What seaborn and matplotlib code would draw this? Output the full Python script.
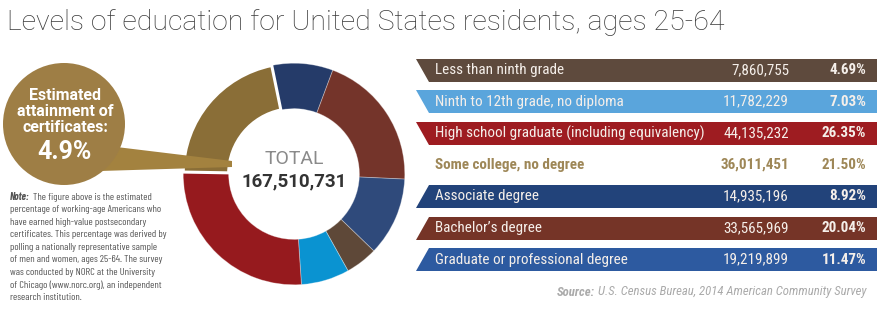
import matplotlib
matplotlib.use("Agg")
import matplotlib.pyplot as plt
import seaborn as sns
import numpy as np
from matplotlib.patches import Polygon, Circle
from matplotlib import font_manager

sns.set_theme(style="white")
avail = {f.name for f in font_manager.fontManager.ttflist}
NARROW = "Liberation Sans"
for cand in ["Roboto Condensed", "Archivo Narrow", "PT Sans Narrow", "Fira Sans Condensed",
             "Barlow Condensed", "Encode Sans Condensed", "Liberation Sans Narrow"]:
    if cand in avail:
        NARROW = cand
        break
NOTE_FONT = NARROW
for cand in ["Barlow Condensed", "Roboto Condensed"]:
    if cand in avail:
        NOTE_FONT = cand
        break
TITLE_FONT = "Roboto" if "Roboto" in avail else "Liberation Sans"
plt.rcParams['font.family'] = ['Roboto', 'Liberation Sans', 'DejaVu Sans']

# ---------------- data ----------------
categories = ["Less than ninth grade", "Ninth to 12th grade, no diploma",
              "High school graduate (including equivalency)", "Some college, no degree",
              "Associate degree", "Bachelor\u2019s degree", "Graduate or professional degree"]
counts = [7860755, 11782229, 44135232, 36011451, 14935196, 33565969, 19219899]
pct_labels = ["4.69%", "7.03%", "26.35%", "21.50%", "8.92%", "20.04%", "11.47%"]
total = 167510731
cert_pct = "4.9%"
# donut drawing order (clockwise from top)
donut_order = [4, 5, 6, 0, 1, 2, 3]

bar_colors = ["#5E4A3D", "#5AA5DC", "#9E1C21", None, "#22437A", "#753427", "#2D5AA0"]
donut_colors = ["#5E4838", "#0A93D1", "#961A1E", "#8A6E37", "#253B69", "#74342A", "#2F4A7B"]
gold_text = "#9E8757"

W, H = 885, 334
fig = plt.figure(figsize=(W / 100, H / 100), dpi=100)
rend = fig.canvas.get_renderer()


def fit_size(family, size, text, target, weight="normal", style="normal"):
    t = fig.text(0, 0, text, family=family, fontsize=size, fontweight=weight, style=style)
    w = t.get_window_extent(rend).width
    t.remove()
    return size * target / w


# ---------------- donut ----------------
cx, cy, R = 294, 174, 113
ax_d = fig.add_axes([(cx - R) / W, (H - cy - R) / H, 2 * R / W, 2 * R / H])
vals = [counts[i] for i in donut_order]
cols = [donut_colors[i] for i in donut_order]
wedges, _ = ax_d.pie(vals, colors=cols, startangle=101.6, counterclock=False,
                     radius=1, wedgeprops=dict(width=0.41, linewidth=0.6,
                                               edgecolor=(1, 1, 1, 0.35)))
gw = wedges[donut_order.index(3)]
gw.set_edgecolor("white")
gw.set_linewidth(2.2)
ax_d.set_xlim(-1.02, 1.02)
ax_d.set_ylim(-1.02, 1.02)
ax_d.set_aspect("equal")
ax_d.axis("off")

# ---------------- overlay (pixel coords) ----------------
ax = fig.add_axes([0, 0, 1, 1])
ax.set_xlim(0, W)
ax.set_ylim(H, 0)
ax.axis("off")
ax.patch.set_alpha(0)

title = "Levels of education for United States residents, ages 25-64"
ts = min(21.5, fit_size([TITLE_FONT, "DejaVu Sans"], 20, title, 717, weight="light"))
ax.text(7, 22, title, fontsize=ts, color="#3a3a3a", va="center", ha="left",
        family=[TITLE_FONT, "DejaVu Sans"], fontweight="light")

# callout
ax.add_patch(Polygon([(100, 145), (232, 161), (232, 167), (100, 171)], closed=True,
                     facecolor="#A3823F", edgecolor="none", zorder=2))
ax.add_patch(Circle((64, 124), 61, facecolor="#9E7E45", edgecolor="none", zorder=3))
for txt, yy in [("Estimated", 95), ("attainment of", 112), ("certificates:", 128)]:
    ax.text(65, yy, txt, color="white", fontsize=11.5, fontweight="bold", ha="center",
            va="center", zorder=4)
ax.text(65, 152, cert_pct, color="white", fontsize=18, fontweight="bold", ha="center",
        va="center", zorder=4)

# total
ax.text(cx, 159, "TOTAL", color="#8a8a8a", fontsize=14, ha="center", va="center")
ax.text(cx, 181, f"{total:,}", color="#333333", fontsize=13.5, fontweight="bold",
        ha="center", va="center")

# table rows
fs_tab = min(12, fit_size(NARROW, 11.5, categories[2], 268))
y0, step, hh = 70, 31.6, 11.5
xl, xs, xr = 416, 429, 877
for i, cat in enumerate(categories):
    yc = y0 + i * step
    c = bar_colors[i]
    if c is not None:
        if i < 3:
            pts = [(xl, yc - hh), (xr, yc - hh), (xr, yc + hh), (xs, yc + hh)]
        else:
            pts = [(xs, yc - hh), (xr, yc - hh), (xr, yc + hh), (xl, yc + hh)]
        ax.add_patch(Polygon(pts, closed=True, facecolor=c, edgecolor="none"))
        tc = "#F5EFEA"
        w1, w2 = "normal", "bold"
    else:
        tc = gold_text
        w1, w2 = "bold", "bold"
    ax.text(435, yc, cat, color=tc, fontsize=fs_tab, fontweight=w1, family=NARROW,
            ha="left", va="center")
    ax.text(789, yc, f"{counts[i]:,}", color=tc, fontsize=fs_tab, fontweight=w1,
            family=NARROW, ha="right", va="center")
    ax.text(866, yc, pct_labels[i], color=tc, fontsize=fs_tab, fontweight=w2,
            family=NARROW, ha="right", va="center")

# source
src = "U.S. Census Bureau, 2014 American Community Survey"
fs_src = min(10.5, fit_size(NARROW, 10, "Source: " + src, 309, style="italic"))
t_src = ax.text(866, 292, src, color="#AAAAAA", fontsize=fs_src, style="italic",
                family=NARROW, ha="right", va="center")
bb = t_src.get_window_extent(rend)
x_src = ax.transData.inverted().transform((bb.x0, 0))[0]
ax.text(x_src - 3, 292, "Source:", color="#AAAAAA", fontsize=fs_src, style="italic",
        fontweight="bold", family=NARROW, ha="right", va="center")

# note
note_lines = ["The figure above is the estimated",
              "percentage of working-age Americans who",
              "have earned high-value postsecondary",
              "certificates. This percentage was derived by",
              "polling a nationally representative sample",
              "of men and women, ages 25-64. The survey",
              "was conducted by NORC at the University",
              "of Chicago (www.norc.org), an independent",
              "research institution."]
fs_note = min(9.5, fit_size(NOTE_FONT, 8, note_lines[3], 156))
ny0, nstep = 197, 12.6
tn = ax.text(10, ny0, "Note:", color="#555555", fontsize=fs_note, style="italic",
             fontweight="bold", family=NOTE_FONT, ha="left", va="center")
nb = tn.get_window_extent(rend)
for k, line in enumerate(note_lines):
    x = 10 + (nb.width + 3 if k == 0 else 0)
    ax.text(x, ny0 + k * nstep, line, color="#555555", fontsize=fs_note,
            family=NOTE_FONT, ha="left", va="center")

fig.savefig("out.png", dpi=100)
